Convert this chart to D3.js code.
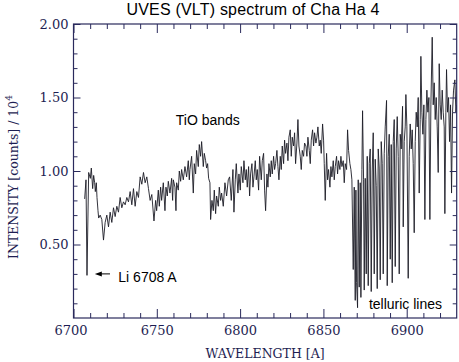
<!DOCTYPE html>
<html><head><meta charset="utf-8">
<script src="https://cdn.jsdelivr.net/npm/d3@7"></script>
<style>body{margin:0;background:#fff}</style>
</head><body><svg id="c" width="459" height="362"></svg>
<script>
// ---- data ----
const wavelength = [
6706.7,6707.5,6708.1,6709.1,6710.1,6710.7,6711.5,6712.1,6712.7,6713.1,6713.7,6714.1,6714.7,6715.1,
6716,6717,6718,6719,6720,6721,6722,6723,6724,6725,6726,6727,6728,6729,6730,6731,6732,6733,6734,6735,6736,6737,6738,6739,6740,6741,6742,6743,6744,6745,6746,6747,
6748.3,6749.3,6749.9,6750.9,6751.5,6752.3,6752.9,6753.9,6754.9,6755.5,6756.3,6756.9,6757.9,6758.9,6759.5,6759.9,6760.9,6761.5,6761.9,6762.9,6763.5,6764.3,6764.9,6765.9,6766.9,6767.9,6768.9,6769.5,6769.9,6770.9,6771.9,6772.5,6773.3,6773.9,6774.9,6775.5,6776.3,6776.9,6777.9,6778.5,6779.3,6779.9,6780.5,6781.1,6781.9,6782.3,6783.1,6783.9,6784.5,6785.3,6785.9,6786.9,6787.5,6788.3,6788.9,6789.9,6790.9,6791.9,6792.9,
6793.7,6794.7,6795.7,6796.3,6797.1,6797.7,6798.7,6799.3,6800.1,6800.7,6801.7,6802.3,6803.1,6803.7,6804.3,6805.1,6805.7,6806.3,6807.1,6807.7,6808.3,6809.1,6809.7,6810.3,6811.1,6811.7,6812.7,6813.3,6814.1,6814.7,6815.3,6816.1,6816.7,6817.3,6818.1,6818.7,6819.3,6820.1,6820.7,6821.3,6822.1,6822.7,6823.3,6824.1,6824.7,6825.3,6826.1,6826.7,6827.3,6828.1,6828.7,6829.3,6830.1,6830.7,6831.3,6832.1,6832.7,6833.3,6834.1,6834.7,6835.3,6836.1,6836.7,6837.3,6838.1,6838.7,
6839.5,6840.1,6840.7,6841.5,6842.1,6842.7,6843.5,6844.1,6844.7,6845.5,6846.1,6846.7,6847.5,6848.1,6848.7,6849.5,6850.1,6850.5,6851.1,6851.9,6852.5,6853.1,6853.9,6854.5,6855.1,6855.9,6856.5,6857.1,6857.9,6858.5,6859.1,6859.9,6860.5,6861.1,6861.9,6862.5,6863.1,6863.9,6864.5,6865.1,6865.9,6866.5,
6867.1,6867.9,6868.5,6869.1,6869.5,6869.9,6870.5,6870.9,6871.5,6872.1,6872.5,6873.1,6873.5,6874.1,6874.5,6875.1,6875.7,6876.3,6876.9,6877.5,6878.1,6878.7,6879.3,6879.9,6880.5,6881.1,6881.7,6882.3,6882.9,6883.5,6884.1,6884.7,6885.3,6885.9,6886.5,6887.1,6887.9,6888.3,6888.9,6889.5,6890.1,6890.7,6891.3,6891.9,6892.5,6893.1,6893.7,6894.3,6894.9,6895.5,6896.1,6896.7,6897.5,6897.9,6898.5,6899.1,6899.5,6900.1,6900.9,6901.5,6902.1,6902.7,6903.3,6903.9,6904.5,6905.1,6905.7,6906.3,6906.9,6907.5,6908.1,6908.5,6909.1,6909.7,6910.3,6910.9,6911.5,6912.1,6912.7,6913.3,6913.9,6914.5,6915.3,6915.9,6916.5,6917.1,6917.7,6918.3,6918.9,6919.5,6920.1,6920.7,6921.3,6921.9,6922.5,6922.9,6923.5,6923.9,6924.5,6925.1,6925.7,6926.3,6926.9,6927.5,6928.1,6928.9,6929.5,6930.0
];
const intensity = [
0.81,0.94,0.29,0.99,0.95,1.02,0.88,0.97,0.92,0.86,0.92,0.82,0.73,0.68,
0.70,0.67,0.53,0.65,0.70,0.62,0.72,0.65,0.75,0.69,0.76,0.72,0.82,0.75,0.79,0.77,0.82,0.79,0.86,0.77,0.88,0.76,0.86,0.82,0.96,0.91,0.99,0.92,0.96,0.88,0.80,0.84,
0.66,0.80,0.73,0.87,0.76,0.89,0.80,0.92,0.73,0.89,0.83,0.93,0.85,0.95,0.80,0.94,0.89,0.73,0.92,0.87,1.00,0.93,1.01,0.94,1.03,0.96,1.07,0.94,1.01,1.10,0.85,1.05,0.98,1.14,1.03,1.18,1.10,1.20,1.03,1.12,1.07,1.02,1.05,0.95,0.92,0.67,0.80,0.73,0.87,0.71,0.83,0.76,0.89,0.80,0.85,0.76,0.92,0.83,0.94,
0.96,0.80,1.01,0.72,0.94,1.05,0.85,0.98,0.87,1.03,0.92,1.07,0.94,1.01,0.89,1.03,0.83,0.98,1.05,0.89,0.96,1.07,0.94,1.01,0.87,1.10,0.94,1.07,1.12,0.87,0.73,0.98,0.89,1.05,0.96,1.07,0.98,1.10,1.01,1.05,1.14,1.03,0.94,1.10,1.01,1.17,1.05,1.21,1.12,1.19,1.07,1.23,1.28,1.10,1.23,1.17,1.26,1.05,1.19,1.35,1.17,1.10,1.01,1.14,1.10,1.19,
1.17,1.10,1.23,1.14,1.05,1.21,1.28,1.17,1.26,1.19,1.23,1.30,1.17,1.21,1.12,1.32,1.21,1.05,0.80,1.12,0.94,1.01,0.89,1.03,0.96,1.07,0.94,1.03,1.10,0.98,1.07,1.01,1.10,1.03,1.07,0.92,1.05,1.01,1.28,1.14,1.05,1.01,
0.94,0.33,0.89,0.12,0.87,0.24,0.07,0.94,0.21,0.92,0.14,1.01,1.41,0.94,0.19,0.95,0.30,1.10,0.22,1.05,1.15,0.18,1.00,1.26,0.30,1.08,0.90,0.20,1.15,1.02,0.26,1.20,1.05,0.30,1.12,1.30,1.48,0.22,1.10,1.25,0.40,1.18,0.24,1.20,1.35,0.35,1.15,1.37,1.10,0.30,1.25,1.15,1.44,0.62,1.20,1.30,1.52,1.30,0.27,1.10,1.32,1.15,1.28,1.05,0.58,1.20,1.40,1.30,1.50,0.85,1.35,1.78,1.40,1.25,1.45,0.67,1.35,1.55,1.40,1.50,0.67,1.45,1.91,1.45,1.60,1.35,1.50,1.30,0.99,1.73,1.45,1.35,1.55,1.40,1.30,0.71,1.40,1.69,1.40,1.50,1.20,1.45,0.85,1.40,1.55,1.62,1.40,1.45
];
const xDomain = [6700, 6930];
const yDomain = [0, 2];
const xMajorTicks = [6700, 6750, 6800, 6850, 6900];
const xMinorTicks = [6710,6720,6730,6740,6760,6770,6780,6790,6810,6820,6830,6840,6860,6870,6880,6890,6910,6920];
const yMajorTicks = [0.5, 1.0, 1.5, 2.0];
const yMinorTicks = [0.1,0.2,0.3,0.4,0.6,0.7,0.8,0.9,1.1,1.2,1.3,1.4,1.6,1.7,1.8,1.9];
const titleText = "UVES (VLT) spectrum of Cha Ha 4";
const annotations = [
  {text: "TiO bands", wl: 6761.4, v: 1.31},
  {text: "Li 6708 A", wl: 6726.9, v: 0.245},
  {text: "telluric lines", wl: 6877.3, v: 0.06}
];
const liArrow = {from: 6721.9, to: 6712.8, v: 0.30};

// ---- drawing ----
const svg = d3.select("#c");
const L = 73.5, R = 456.7, T = 24, B = 318;
const x = d3.scaleLinear().domain(xDomain).range([L, R]);
const y = d3.scaleLinear().domain(yDomain).range([B, T]);
const axisCol = "#2a2a5c", labCol = "#1e1e52";
const serif = "'DejaVu Serif', serif", sans = "'Liberation Sans', Arial, sans-serif";

svg.append("rect").attr("width", 459).attr("height", 362).attr("fill", "#fff");

svg.append("clipPath").attr("id", "clip").append("rect")
  .attr("x", L).attr("y", T).attr("width", R - L).attr("height", B - T);

const pts = wavelength.map((w, i) => [w, intensity[i]]);
svg.append("path").datum(pts)
  .attr("clip-path", "url(#clip)")
  .attr("fill", "none").attr("stroke", "#1c1c26").attr("stroke-width", 0.9)
  .attr("d", d3.line().x(d => x(d[0])).y(d => y(d[1])));

function styleAxis(g) {
  g.select(".domain").remove();
  g.selectAll(".tick line").attr("stroke", axisCol).attr("stroke-width", 1);
  g.selectAll(".tick text").attr("fill", labCol).attr("font-family", serif).attr("font-size", 13);
}
// bottom
svg.append("g").attr("transform", `translate(0,${B})`)
  .call(d3.axisBottom(x).tickValues(xMinorTicks).tickSize(-5).tickFormat("")).call(styleAxis);
const bx = svg.append("g").attr("transform", `translate(0,${B})`)
  .call(d3.axisBottom(x).tickValues(xMajorTicks).tickSize(-9).tickPadding(8).tickFormat(d3.format("d"))).call(styleAxis);
bx.selectAll(".tick text").filter(d => d === 6700).attr("dx", -3);
// top
svg.append("g").attr("transform", `translate(0,${T})`)
  .call(d3.axisTop(x).tickValues(xMinorTicks).tickSize(-5).tickFormat("")).call(styleAxis);
svg.append("g").attr("transform", `translate(0,${T})`)
  .call(d3.axisTop(x).tickValues(xMajorTicks).tickSize(-9).tickFormat("")).call(styleAxis);
// left
svg.append("g").attr("transform", `translate(${L},0)`)
  .call(d3.axisLeft(y).tickValues(yMinorTicks).tickSize(-4).tickFormat("")).call(styleAxis);
svg.append("g").attr("transform", `translate(${L},0)`)
  .call(d3.axisLeft(y).tickValues(yMajorTicks).tickSize(-7).tickPadding(5).tickFormat(d3.format(".2f"))).call(styleAxis);
// right
svg.append("g").attr("transform", `translate(${R},0)`)
  .call(d3.axisRight(y).tickValues(yMinorTicks).tickSize(-4).tickFormat("")).call(styleAxis);
svg.append("g").attr("transform", `translate(${R},0)`)
  .call(d3.axisRight(y).tickValues(yMajorTicks).tickSize(-7).tickFormat("")).call(styleAxis);

svg.append("rect").attr("x", L).attr("y", T).attr("width", R - L).attr("height", B - T)
  .attr("fill", "none").attr("stroke", axisCol).attr("stroke-width", 1.2);

// title
svg.append("text").attr("x", 253).attr("y", 15).attr("text-anchor", "middle")
  .attr("font-family", sans).attr("font-size", 16).attr("letter-spacing", 0.2).attr("fill", "#000").text(titleText);

// axis labels
svg.append("text").attr("x", 265).attr("y", 358).attr("text-anchor", "middle")
  .attr("font-family", serif).attr("font-size", 12.5).attr("fill", labCol).text("WAVELENGTH [A]");
const yl = svg.append("text").attr("transform", "translate(18,177) rotate(-90)").attr("text-anchor", "middle")
  .attr("font-family", serif).attr("font-size", 12.5).attr("fill", labCol);
yl.append("tspan").text("INTENSITY [counts] / 10");
yl.append("tspan").attr("dy", -6).attr("font-size", 9).text("4");

// annotations
annotations.forEach(a => {
  svg.append("text").attr("x", x(a.wl)).attr("y", y(a.v))
    .attr("font-family", sans).attr("font-size", 14).attr("fill", "#000").text(a.text);
});
svg.append("line").attr("x1", x(liArrow.from)).attr("x2", x(liArrow.to) + 5)
  .attr("y1", y(liArrow.v)).attr("y2", y(liArrow.v)).attr("stroke", "#000").attr("stroke-width", 1);
const ax = x(liArrow.to), ay = y(liArrow.v);
svg.append("path").attr("d", `M${ax},${ay} L${ax + 7},${ay - 2.5} L${ax + 7},${ay + 2.5} Z`).attr("fill", "#000");
</script></body></html>
